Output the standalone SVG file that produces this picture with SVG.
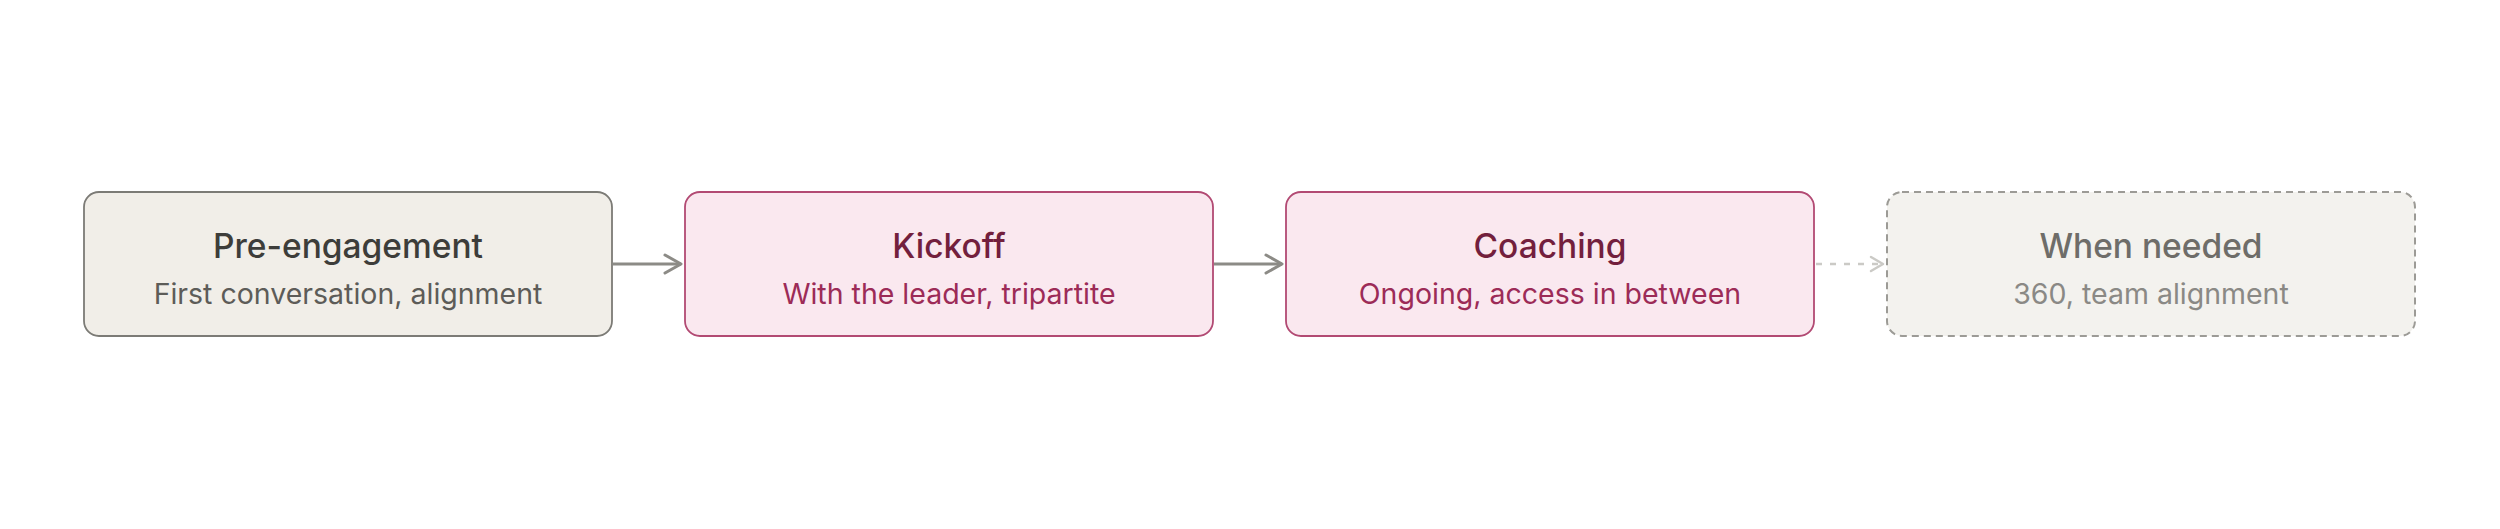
<svg xmlns="http://www.w3.org/2000/svg" width="2500" height="529" viewBox="0 0 2500 529">
  <style>
    .title { font-family: Inter, "Noto Sans", "Liberation Sans", sans-serif; font-size: 33.5px; font-weight: 500; text-anchor: middle; }
    .sub { font-family: Inter, "Noto Sans", "Liberation Sans", sans-serif; font-size: 28.5px; font-weight: 400; text-anchor: middle; }
    .neutral rect { fill: #f1eee8; stroke: #7c7b76; stroke-width: 1.8; }
    .neutral .title { fill: #3d3d3a; }
    .neutral .sub { fill: #5d5c58; }
    .accent rect { fill: #fae8ef; stroke: #b24a73; stroke-width: 1.8; }
    .accent .title { fill: #731f3d; }
    .accent .sub { fill: #9c2b57; }
    .optional rect { fill: #f3f2ee; stroke: #9c9b96; stroke-width: 2; stroke-dasharray: 7 5; }
    .optional .title { fill: #6e6d69; }
    .optional .sub { fill: #8a8985; }
    .conn { fill: none; stroke: #8c8b86; stroke-width: 3; }
    .conn-opt { fill: none; stroke: #cbcac6; stroke-width: 2.5; stroke-dasharray: 6 8; }
  </style>
  <defs>
    <marker id="arrow" markerUnits="userSpaceOnUse" markerWidth="22" markerHeight="24" viewBox="0 0 22 24" refX="19" refY="12" orient="auto">
      <path d="M3,3 L19,12 L3,21" fill="none" stroke="#8c8b86" stroke-width="3" stroke-linecap="round" stroke-linejoin="round"/>
    </marker>
    <marker id="arrow-opt" markerUnits="userSpaceOnUse" markerWidth="16" markerHeight="18" viewBox="0 0 16 18" refX="14" refY="9" orient="auto">
      <path d="M2,2 L14,9 L2,16" fill="none" stroke="#cbcac6" stroke-width="2.5" stroke-linecap="round" stroke-linejoin="round"/>
    </marker>
  </defs>
  <rect width="2500" height="529" fill="#ffffff"/>
  <g id="connectors">
    <line class="conn" x1="613" y1="264" x2="681" y2="264" marker-end="url(#arrow)"/>
    <line class="conn" x1="1214" y1="264" x2="1282" y2="264" marker-end="url(#arrow)"/>
    <line class="conn-opt" x1="1816" y1="264" x2="1883" y2="264" marker-end="url(#arrow-opt)"/>
  </g>
  <g id="node-pre-engagement" class="neutral">
    <rect x="84" y="192" width="528" height="144" rx="15"/>
    <text class="title" x="348" y="258">Pre-engagement</text>
    <text class="sub" x="348" y="304">First conversation, alignment</text>
  </g>
  <g id="node-kickoff" class="accent">
    <rect x="685" y="192" width="528" height="144" rx="15"/>
    <text class="title" x="949" y="258">Kickoff</text>
    <text class="sub" x="949" y="304">With the leader, tripartite</text>
  </g>
  <g id="node-coaching" class="accent">
    <rect x="1286" y="192" width="528" height="144" rx="15"/>
    <text class="title" x="1550" y="258">Coaching</text>
    <text class="sub" x="1550" y="304">Ongoing, access in between</text>
  </g>
  <g id="node-when-needed" class="optional">
    <rect x="1887" y="192" width="528" height="144" rx="15"/>
    <text class="title" x="2151" y="258">When needed</text>
    <text class="sub" x="2151" y="304">360, team alignment</text>
  </g>
</svg>
